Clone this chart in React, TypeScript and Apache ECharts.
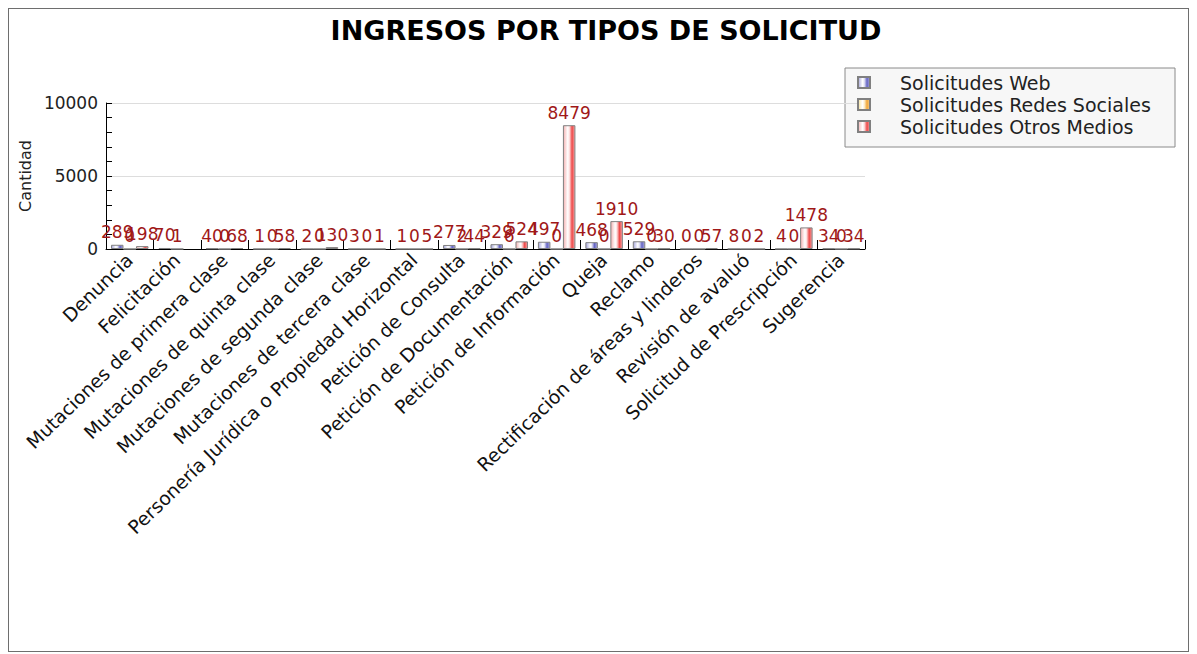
import React, { useEffect, useRef } from "react";
import * as echarts from "echarts";

const categories = [
  "Denuncia",
  "Felicitación",
  "Mutaciones de primera clase",
  "Mutaciones de quinta clase",
  "Mutaciones de segunda clase",
  "Mutaciones de tercera clase",
  "Personería Jurídica o Propiedad Horizontal",
  "Petición de Consulta",
  "Petición de Documentación",
  "Petición de Información",
  "Queja",
  "Reclamo",
  "Rectificación de áreas y linderos",
  "Revisión de avaluó",
  "Solicitud de Prescripción",
  "Sugerencia",
];

const seriesNames = [
  "Solicitudes Web",
  "Solicitudes Redes Sociales",
  "Solicitudes Otros Medios",
];

const webValues = [289, 70, 40, 1, 2, 3, 1, 277, 329, 497, 468, 529, 0, 8, 4, 34];
const redesValues = [0, 1, 0, 0, 0, 0, 0, 2, 6, 0, 0, 0, 0, 0, 0, 0];
const otrosValues = [198, null, 68, 58, 130, 1, 5, 44, 524, 8479, 1910, 30, 57, 2, 1478, 34];

const yTicks = { min: 0, max: 10000, interval: 5000 };

const FONT = "DejaVu Sans";

const grad = (stops: [number, string][]) => ({
  type: "linear",
  x: 0,
  y: 0,
  x2: 1,
  y2: 0,
  colorStops: stops.map(([offset, color]) => ({ offset, color })),
});

const blueGrad = grad([
  [0, "#a4a4da"],
  [0.38, "#ffffff"],
  [0.52, "#e6e6f6"],
  [0.75, "#6464c4"],
  [1, "#adadde"],
]);
const yellowGrad = grad([
  [0, "#f7e39a"],
  [0.38, "#ffffff"],
  [0.52, "#fdf0d0"],
  [0.75, "#f0a638"],
  [1, "#f6d08e"],
]);
const redGrad = grad([
  [0, "#f4b2b2"],
  [0.38, "#ffffff"],
  [0.52, "#fde0e0"],
  [0.75, "#ee4848"],
  [1, "#f4a6a6"],
]);

export default function App() {
  const ref = useRef<HTMLDivElement>(null);

  useEffect(() => {
    if (!ref.current) return;
    const chart = echarts.init(ref.current, undefined, { renderer: "svg" });

    const makeSeries = (name: string, data: (number | null)[], color: any) => ({
      name,
      type: "bar",
      data,
      barWidth: 12.5,
      barGap: "0%",
      itemStyle: { color, borderColor: "#808080", borderWidth: 1 },
      label: {
        show: true,
        position: "top",
        distance: 4,
        color: "#a01818",
        fontFamily: FONT,
        fontSize: 17,
      },
    });

    chart.setOption({
      animation: false,
      backgroundColor: "#ffffff",
      title: {
        text: "INGRESOS POR TIPOS DE SOLICITUD",
        left: 592,
        top: 3,
        textAlign: "center",
        textStyle: {
          fontFamily: FONT,
          fontWeight: "bold",
          fontSize: 27,
          color: "#000000",
        },
      },
      graphic: [
        {
          type: "rect",
          z: 0,
          shape: { x: 836, y: 59, width: 330, height: 79 },
          style: { fill: "#f7f7f7", stroke: "#8a8a8a", lineWidth: 1 },
        },
      ],
      legend: {
        orient: "vertical",
        left: 843,
        top: 59,
        z: 5,
        itemWidth: 12,
        itemHeight: 11,
        itemGap: 3,
        icon: "rect",
        data: seriesNames,
        textStyle: {
          fontFamily: FONT,
          fontSize: 19,
          color: "#222222",
          padding: [0, 0, 0, 25],
        },
      },
      grid: { left: 97, right: 323, top: 94, bottom: 402, containLabel: false },
      xAxis: {
        type: "category",
        data: categories,
        axisLine: { lineStyle: { color: "#000000", width: 1 } },
        axisTick: {
          show: true,
          inside: true,
          length: 9,
          interval: 0,
          lineStyle: { color: "#000000" },
        },
        axisLabel: {
          interval: 0,
          rotate: 44,
          margin: 8,
          fontFamily: FONT,
          fontSize: 18.8,
          color: "#111111",
        },
      },
      yAxis: {
        type: "value",
        min: yTicks.min,
        max: yTicks.max,
        interval: yTicks.interval,
        name: "Cantidad",
        nameLocation: "middle",
        nameRotate: 90,
        nameGap: 64,
        nameTextStyle: { fontFamily: FONT, fontSize: 16, color: "#222222" },
        axisLine: { show: true, lineStyle: { color: "#000000", width: 1 } },
        axisTick: { show: true, inside: true, length: 6, lineStyle: { color: "#000000" } },
        minorTick: { show: true, splitNumber: 5, length: 6, lineStyle: { color: "#000000" } },
        axisLabel: {
          margin: 8,
          fontFamily: FONT,
          fontSize: 17,
          color: "#222222",
          formatter: (v: number) => String(v),
        },
        splitLine: { show: true, lineStyle: { color: "#dddddd", width: 1 } },
      },
      series: [
        makeSeries(seriesNames[0], webValues, blueGrad),
        makeSeries(seriesNames[1], redesValues, yellowGrad),
        makeSeries(seriesNames[2], otrosValues, redGrad),
      ],
    });

    return () => chart.dispose();
  }, []);

  return (
    <div
      style={{
        position: "absolute",
        left: 8,
        top: 8,
        width: 1181,
        height: 644,
        boxSizing: "border-box",
        border: "1px solid #6e6e6e",
        background: "#ffffff",
      }}
    >
      <div ref={ref} style={{ width: 1179, height: 642 }} />
    </div>
  );
}
